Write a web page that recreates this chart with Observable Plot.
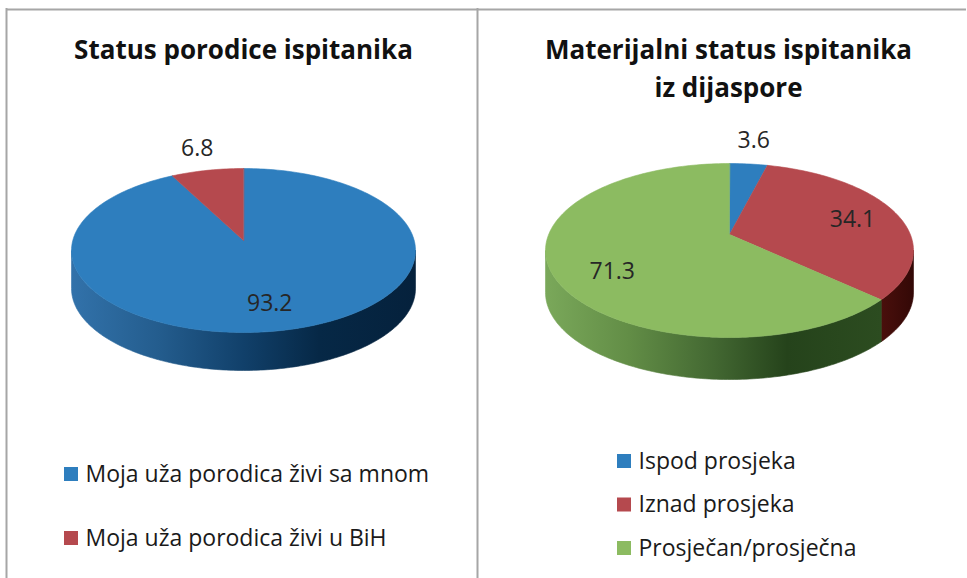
<!DOCTYPE html>
<html><head><meta charset="utf-8">
<script src="https://cdn.jsdelivr.net/npm/d3@7"></script>
<script src="https://cdn.jsdelivr.net/npm/@observablehq/plot@0.6"></script>
<style>body{margin:0;background:#fff} svg{display:block;background:#fff}</style>
</head><body><div id="chart"></div>
<script>
// ---- data ----
const pie1Title = ["Status porodice ispitanika"];
const pie1Categories = ["Moja uža porodica živi sa mnom", "Moja uža porodica živi u BiH"];
const pie1Values = [93.2, 6.8];
const pie2Title = ["Materijalni status ispitanika", "iz dijaspore"];
const pie2Categories = ["Ispod prosjeka", "Iznad prosjeka", "Prosječan/prosječna"];
const pie2Values = [3.6, 34.1, 71.3];

// ---- styles ----
const W = 967, H = 578;
const FONT = "'Open Sans', Lato, sans-serif";
const topColors = {blue: "#2e7ebe", red: "#b5494e", green: "#8cbb61"};
const pie1Colors = ["blue", "red"];
const pie2Colors = ["blue", "red", "green"];
const sideStops = {
  blue: [[0, "#3272aa"], [0.25, "#245d8e"], [0.5, "#11406a"], [0.72, "#062846"], [1, "#05213c"]],
  red: [[0, "#4a0f0c"], [1, "#330806"]],
  green: [[0, "#7aa85a"], [0.25, "#628d46"], [0.5, "#436832"], [0.72, "#25431b"], [1, "#2c4c20"]]
};

const geom1 = {cx: 243, cy: 250, rx: 172, ry: 82, depth: 38, apexDy: -10};
const geom2 = {cx: 729, cy: 250, rx: 184, ry: 87, depth: 42, apexDy: -16};

function buildPie(values, colors, g) {
  const arcs = d3.pie().sort(null).value(d => d)(values);
  const total = d3.sum(values);
  const rim = (t, dz = 0) => [g.cx + g.rx * Math.sin(t), g.cy - g.ry * Math.cos(t) + dz];
  const tops = [], sides = [], labels = [];
  arcs.forEach((a, i) => {
    const n = Math.max(4, Math.ceil((a.endAngle - a.startAngle) / 0.02));
    const pts = [[g.cx, g.cy + g.apexDy]];
    for (let k = 0; k <= n; k++) pts.push(rim(a.startAngle + (a.endAngle - a.startAngle) * k / n));
    tops.push({color: colors[i], pts});
    const s = Math.max(a.startAngle, Math.PI / 2), e = Math.min(a.endAngle, 3 * Math.PI / 2);
    if (e > s) {
      const m = Math.max(2, Math.ceil((e - s) / 0.02));
      const up = [], dn = [];
      for (let k = 0; k <= m; k++) { const t = s + (e - s) * k / m; up.push(rim(t)); dn.push(rim(t, g.depth)); }
      sides.push({color: colors[i], pts: up.concat(dn.reverse())});
    }
    const mid = (a.startAngle + a.endAngle) / 2;
    const outside = a.value / total < 0.08;
    const r = outside ? 1.27 : 0.72;
    const oy = outside ? g.cy : g.cy + g.apexDy / 2;
    labels.push({x: g.cx + r * g.rx * Math.sin(mid), y: oy - r * g.ry * Math.cos(mid), text: d3.format(".1f")(a.value)});
  });
  return {tops, sides, labels};
}

const p1 = buildPie(pie1Values, pie1Colors, geom1);
const p2 = buildPie(pie2Values, pie2Colors, geom2);

const defsMark = () => {
  const defs = d3.create("svg:defs");
  for (const [name, stops] of Object.entries(sideStops)) {
    const lg = defs.append("linearGradient").attr("id", "side-" + name)
      .attr("x1", 0).attr("x2", 1).attr("y1", 0).attr("y2", 0);
    for (const [o, c] of stops) lg.append("stop").attr("offset", o).attr("stop-color", c);
  }
  return defs.node();
};

const polyMarks = [];
for (const p of [p1, p2]) {
  for (const s of p.sides) {
    const f = "url(#side-" + s.color + ")";
    polyMarks.push(Plot.line(s.pts, {x: d => d[0], y: d => d[1], fill: f, stroke: f, strokeWidth: 0.6, curve: "linear-closed"}));
  }
  for (const t of p.tops) {
    const c = topColors[t.color];
    polyMarks.push(Plot.line(t.pts, {x: d => d[0], y: d => d[1], fill: c, stroke: c, strokeWidth: 0.6, curve: "linear-closed"}));
  }
}

const titles = [
  ...pie1Title.map((t, i) => ({x: 243, y: 50 + i * 38, text: t})),
  ...pie2Title.map((t, i) => ({x: 728, y: 50 + i * 38, text: t}))
];
const valueLabels = p1.labels.concat(p2.labels);
const legend = [
  ...pie1Categories.map((c, i) => ({x: 64, y: 474 + i * 64, text: c, color: topColors[pie1Colors[i]]})),
  ...pie2Categories.map((c, i) => ({x: 617, y: 461 + i * 43.5, text: c, color: topColors[pie2Colors[i]]}))
];

const chart = Plot.plot({
  width: W, height: H,
  marginTop: 0, marginRight: 0, marginBottom: 0, marginLeft: 0,
  x: {domain: [0, W], range: [0, W], axis: null},
  y: {domain: [0, H], range: [0, H], axis: null},
  style: {background: "#fff"},
  marks: [
    defsMark,
    Plot.ruleY([9], {x1: 6, x2: 966, stroke: "#a6a6a6", strokeWidth: 2}),
    Plot.ruleX([6, 477], {y1: 8, y2: H, stroke: "#a6a6a6", strokeWidth: 2}),
    ...polyMarks,
    Plot.text(titles, {x: "x", y: "y", text: "text", fontSize: 26, fontWeight: "bold", fontFamily: FONT, fill: "#111"}),
    Plot.text(valueLabels, {x: "x", y: "y", text: "text", fontSize: 23, fontFamily: FONT, fill: "#262626"}),
    Plot.rect(legend, {x1: "x", x2: d => d.x + 14, y1: d => d.y - 7, y2: d => d.y + 7, fill: "color"}),
    Plot.text(legend, {x: d => d.x + 21, y: "y", text: "text", textAnchor: "start", fontSize: 23, fontFamily: FONT, fill: "#1a1a1a"})
  ]
});
document.getElementById("chart").appendChild(chart);
</script>
</body></html>
